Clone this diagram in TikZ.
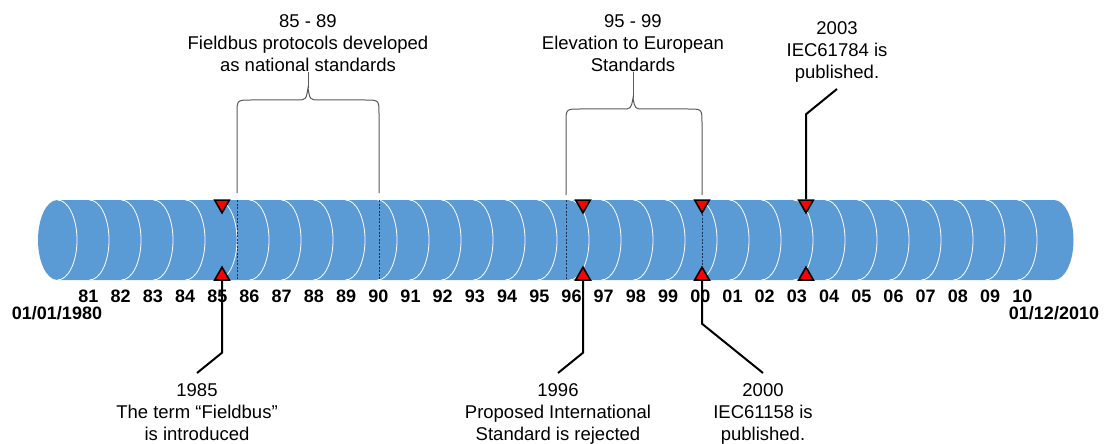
\documentclass[tikz,border=0pt]{standalone}
\usepackage{fontspec}
\setmainfont{Liberation Sans}
\usepackage{xcolor}
\usepackage{tikz}
\usetikzlibrary{positioning, arrows.meta, calc, shapes.geometric}
\definecolor{tubeblue}{HTML}{5B9BD5}
\definecolor{bracegray}{HTML}{595959}
\definecolor{markred}{HTML}{FF0000}
\definecolor{dashnavy}{HTML}{1F2F4F}

\begin{document}
\begin{tikzpicture}[x=1pt, y=-1pt,
    note/.style={align=center, inner sep=0pt, font=\fontsize{18.5}{22}\selectfont},
    yearlbl/.style={inner sep=0pt, font=\bfseries\fontsize{18}{22}\selectfont},
    trimark/.style={regular polygon, regular polygon sides=3, fill=markred, draw=black,
          line width=1.6pt, minimum size=17pt, inner sep=0pt},
    tridown/.style={trimark, shape border rotate=180},
    triup/.style={trimark},
    bracepath/.style={draw=bracegray, line width=1pt},
    callout/.style={draw=black, line width=2pt},
    dashline/.style={draw=dashnavy, line width=0.8pt, dash pattern=on 2pt off 1.5pt}]
    \useasboundingbox (0,0) rectangle (1104,444);

    \fill[tubeblue] (57.5,200) -- (1054,200)
        arc[start angle=-90, end angle=90, x radius=19.5, y radius=40]
        -- (57.5,280)
        arc[start angle=90, end angle=270, x radius=19.5, y radius=40] -- cycle;
    \foreach \k in {0,...,30}
      \draw[white, line width=0.8pt] ({57.5+32*\k},200)
        arc[start angle=-90, end angle=90, x radius=19.5, y radius=40];
    \foreach \x in {237,379,566,702}
      \draw[dashline] (\x,200) -- (\x,280);

    \foreach \yr [count=\i from 0] in {81,82,83,84,85,86,87,88,89,90,91,92,93,94,95,96,97,98,99,00,01,02,03,04,05,06,07,08,09,10}
      \node[yearlbl] (yr\i) at ({88.5+32.2*\i},296) {\yr};
    \node[yearlbl] (startdate) at (57,313) {01/01/1980};
    \node[yearlbl] (enddate) at (1054,313) {01/12/2010};

    \foreach \x/\id in {222/85,583/96,702/00,806/03}{
      \node[tridown] (d\id) at (\x,204.3) {};
      \node[triup] (u\id) at (\x,275.7) {};
    }

    \node[note, anchor=south] (t8589) at (308,72)
      {85 - 89\\Fieldbus protocols developed\\as national standards};
    \node[note, anchor=south] (t9599) at (633,72)
      {95 - 99\\Elevation to European\\Standards};
    \draw[bracepath] (237,193) -- (237,114) .. controls (237,100) .. (251,100)
      -- (296,100) .. controls (306,100) .. (308,88) coordinate (tip1)
      .. controls (310,100) .. (320,100) -- (365,100)
      .. controls (379,100) .. (379,114) -- (379,193);
    \draw[bracepath] (tip1) -- (t8589.south);
    \draw[bracepath] (566,195) -- (566,123) .. controls (566,109) .. (580,109)
      -- (622,109) .. controls (631,109) .. (633,98) coordinate (tip2)
      .. controls (635,109) .. (644,109) -- (688,109)
      .. controls (702,109) .. (702,123) -- (702,195);
    \draw[bracepath] (tip2) -- (t9599.south);

    \node[note, anchor=south, outer ysep=7pt] (n03) at (837,89)
      {2003\\IEC61784 is\\published.};
    \node[note, anchor=north, outer ysep=11pt] (n85) at (197,373)
      {1985\\The term “Fieldbus”\\is introduced};
    \node[note, anchor=north, outer ysep=11pt] (n96) at (558,373)
      {1996\\Proposed International\\Standard is rejected};
    \node[note, anchor=north, outer ysep=11pt] (n00) at (763,373)
      {2000\\IEC61158 is\\published.};

    \draw[callout] (d03.north) -- ++(0,-85) -- (n03.south);
    \draw[callout] (u85.south) -- ++(0,72) -- (n85.north);
    \draw[callout] (u96.south) -- ++(0,72) -- (n96.north);
    \draw[callout] (u00.south) -- ++(0,43) -- (n00.north);
  \end{tikzpicture}
\end{document}
